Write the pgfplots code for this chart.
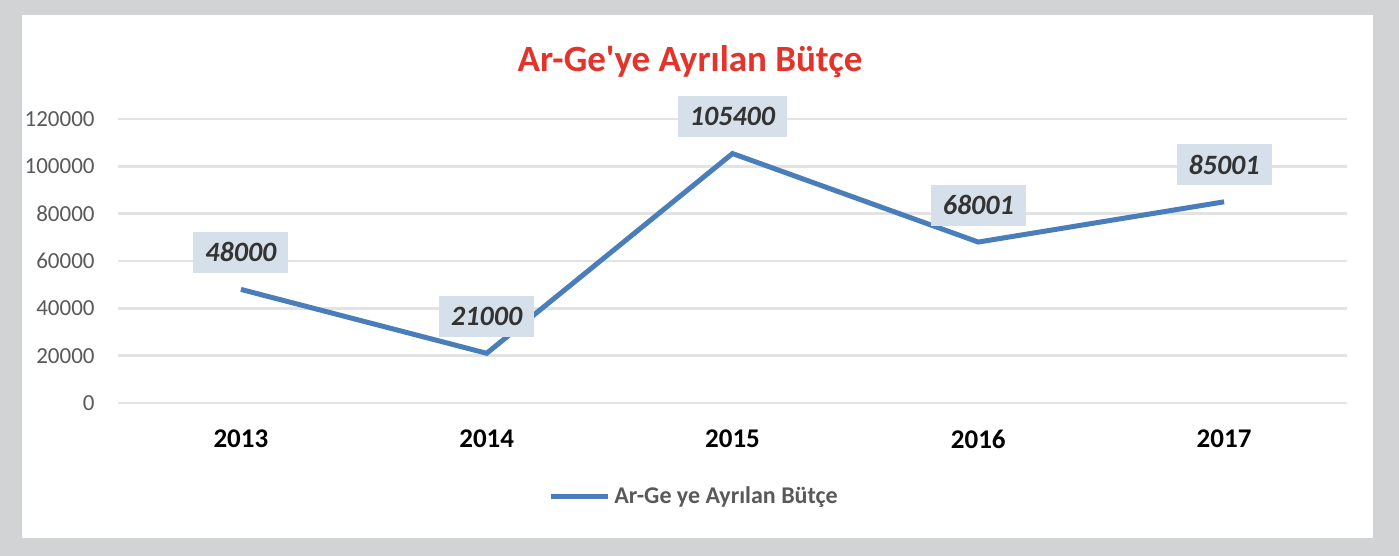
\documentclass[border=0pt]{standalone}
\usepackage{pgfplots}
\pgfplotsset{compat=1.18}
\usepackage{fontspec}
\setmainfont{Carlito}
\definecolor{bordergray}{HTML}{D2D3D5}
\definecolor{lineblue}{HTML}{4A7EBB}
\definecolor{boxfill}{HTML}{D6E0EA}
\definecolor{titlered}{HTML}{E2342B}
\definecolor{gridgray}{HTML}{E3E3E3}
\definecolor{ticktext}{HTML}{595959}
\begin{document}
\begin{tikzpicture}
\fill[bordergray] (0,0) rectangle (699.5pt,278pt);
\fill[white] (11pt,9pt) rectangle (686.5pt,270.5pt);
\node[font=\fontsize{18.5}{20}\selectfont\bfseries, text=titlered] at (345pt,247pt) {Ar-Ge\textquotesingle ye Ayrılan Bütçe};
\begin{axis}[
  at={(59pt,76.5pt)}, anchor=south west,
  scale only axis, width=614.5pt, height=142pt,
  xmin=-0.5, xmax=4.5, ymin=0, ymax=120000,
  axis line style={draw=none},
  major tick length=0pt,
  xtick={0,1,2,3,4},
  xticklabels={2013,2014,2015,2016,2017},
  xticklabel style={font=\fontsize{13.5}{15}\selectfont\bfseries, text=black, anchor=center, inner sep=0pt, yshift=-18pt},
  ytick={0,20000,40000,60000,80000,100000,120000},
  yticklabels={0,20000,40000,60000,80000,100000,120000},
  scaled y ticks=false,
  yticklabel style={font=\fontsize{11.5}{13}\selectfont, text=ticktext, anchor=east, inner sep=0pt, xshift=-11.5pt},
  ymajorgrids, grid style={gridgray, line width=1.3pt},
  clip=false,
  legend style={at={(0.4695,-0.331)}, anchor=center, draw=none, fill=none,
    font=\fontsize{12}{14}\selectfont\bfseries, text=ticktext},
  legend image code/.code={\draw[lineblue, line width=2.5pt] (0pt,0pt) -- (28.5pt,0pt);},
  legend cell align=left,
]
\addplot[lineblue, line width=2.5pt, mark=none,
  point meta=explicit symbolic,
  nodes near coords,
  nodes near coords style={fill=boxfill, text=black!80, font=\fontsize{14}{15}\selectfont\bfseries\itshape,
    anchor=center, yshift=18.5pt, inner xsep=6pt, minimum height=20.5pt}]
  coordinates {(0,48000) [48000] (1,21000) [21000] (2,105400) [105400] (3,68001) [68001] (4,85001) [85001]};
\addlegendentry{Ar-Ge ye Ayrılan Bütçe}
\end{axis}
\end{tikzpicture}
\end{document}
